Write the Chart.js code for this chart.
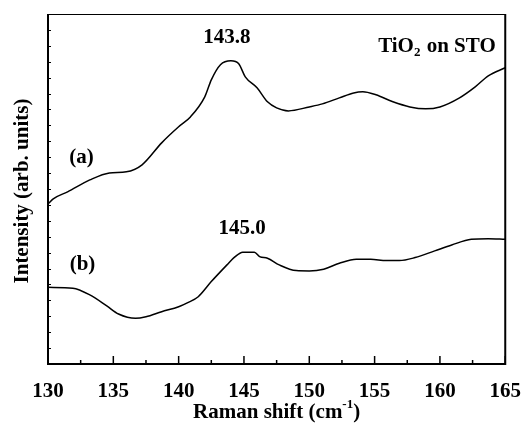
<!DOCTYPE html>
<html>
<head>
<meta charset="utf-8">
<script src="https://cdn.jsdelivr.net/npm/chart.js@4/dist/chart.umd.min.js"></script>
<style>
  html, body { margin: 0; padding: 0; background: #fff; }
  #wrap { width: 528px; height: 423px; position: relative; }
</style>
</head>
<body>
<div id="wrap"><canvas id="chart"></canvas></div>
<script>
// spectrum (a) - Raman shift / intensity
const shiftA = [130, 130.4, 131.5, 133.2, 134.7, 136, 137.2, 138.7, 140, 140.9, 142, 142.5, 143.2, 144, 144.6, 145.1, 146, 146.8, 147.5, 148.4, 150, 151, 152.3, 153.4, 154.1, 155.1, 156.4, 157.7, 158.9, 160, 161.5, 162.7, 163.7, 165]
const intA = [10.06, 10.38, 10.82, 11.57, 12.01, 12.08, 12.52, 13.9, 14.91, 15.53, 16.79, 17.86, 18.81, 19.06, 18.87, 18.05, 17.36, 16.48, 16.1, 15.91, 16.16, 16.35, 16.73, 17.04, 17.11, 16.92, 16.48, 16.16, 16.04, 16.16, 16.73, 17.42, 18.11, 18.62]

// spectrum (b)
const shiftB = [130, 131.9, 133.2, 134.5, 135.4, 136.7, 137.5, 138.7, 140, 140.7, 141.5, 142.5, 143.7, 144.3, 144.9, 145.8, 146.2, 146.8, 147.7, 149, 150, 151.1, 152.3, 153.6, 154.7, 155.9, 156.9, 158.1, 159.6, 160.9, 162.4, 163.7, 165]
const intB = [4.82, 4.76, 4.34, 3.65, 3.14, 2.87, 2.97, 3.29, 3.6, 3.86, 4.23, 5.18, 6.23, 6.73, 7.03, 7.03, 6.75, 6.65, 6.23, 5.87, 5.85, 5.96, 6.33, 6.58, 6.58, 6.5, 6.5, 6.69, 7.11, 7.48, 7.84, 7.88, 7.84]

// text labels placed in data coordinates
const noteText = ['(a)', '(b)', '143.8', '145.0']
const noteX = [132.56, 132.64, 143.7, 144.86]
const noteY = [12.96, 6.23, 20.5, 8.49]

const xMin = 130, xMax = 165
const yMin = 0, yMax = 22

const serif = '"Liberation Serif", "Times New Roman", serif'
const fs = 21

function toPoints(xs, ys) {
  return xs.map((x, i) => ({ x: x, y: ys[i] }))
}

const decor = {
  id: 'decor',
  afterDraw(chart) {
    const ctx = chart.ctx
    const a = chart.chartArea
    const xs = chart.scales.x
    const ys = chart.scales.y
    ctx.save()
    ctx.strokeStyle = '#000'
    ctx.fillStyle = '#000'

    // frame
    ctx.lineWidth = 2
    ctx.beginPath()
    ctx.moveTo(a.left, a.top); ctx.lineTo(a.left, a.bottom); ctx.lineTo(a.right, a.bottom); ctx.lineTo(a.right, a.top)
    ctx.stroke()
    ctx.lineWidth = 1
    ctx.beginPath()
    ctx.moveTo(a.left, a.top + 0.5); ctx.lineTo(a.right, a.top + 0.5)
    ctx.stroke()

    // inward ticks on x
    ctx.lineWidth = 1.5
    xs.ticks.forEach(t => {
      const px = xs.getPixelForValue(t.value)
      const len = t.value % 5 === 0 ? 8 : 4
      ctx.beginPath(); ctx.moveTo(px, a.bottom); ctx.lineTo(px, a.bottom - len); ctx.stroke()
    })
    // small inward ticks on y
    ctx.lineWidth = 1
    ys.ticks.forEach(t => {
      const py = Math.round(ys.getPixelForValue(t.value)) + 0.5
      ctx.beginPath(); ctx.moveTo(a.left, py); ctx.lineTo(a.left + 3, py); ctx.stroke()
    })

    // notes
    ctx.font = 'bold ' + fs + 'px ' + serif
    ctx.textAlign = 'center'
    ctx.textBaseline = 'middle'
    noteText.forEach((s, i) => {
      ctx.fillText(s, xs.getPixelForValue(noteX[i]), ys.getPixelForValue(noteY[i]))
    })

    // TiO2 on STO
    let px = xs.getPixelForValue(155.27)
    const py = ys.getPixelForValue(19.94)
    ctx.textAlign = 'left'
    ctx.fillText('TiO', px, py)
    px += ctx.measureText('TiO').width
    ctx.font = 'bold 13px ' + serif
    ctx.fillText('2', px, py + 6)
    px += ctx.measureText('2').width + 1
    ctx.font = 'bold ' + fs + 'px ' + serif
    ctx.fillText(' on STO', px, py)

    // x title with superscript
    const main = 'Raman shift (cm'
    const sup = '-1'
    const close = ')'
    ctx.font = 'bold ' + fs + 'px ' + serif
    const w1 = ctx.measureText(main).width
    const w3 = ctx.measureText(close).width
    ctx.font = 'bold 13px ' + serif
    const w2 = ctx.measureText(sup).width
    let tx = (a.left + a.right) / 2 - (w1 + w2 + w3) / 2
    const ty = 413
    ctx.font = 'bold ' + fs + 'px ' + serif
    ctx.fillText(main, tx, ty)
    tx += w1
    ctx.font = 'bold 13px ' + serif
    ctx.fillText(sup, tx, ty - 8)
    tx += w2
    ctx.font = 'bold ' + fs + 'px ' + serif
    ctx.fillText(close, tx, ty)

    // y title
    ctx.translate(23, (a.top + a.bottom) / 2 + 2)
    ctx.rotate(-Math.PI / 2)
    ctx.textAlign = 'center'
    ctx.font = 'bold ' + fs + 'px ' + serif
    ctx.fillText('Intensity (arb. units)', 0, 0)
    ctx.restore()
  }
}

new Chart(document.getElementById('chart'), {
  type: 'line',
  data: {
    datasets: [
      { data: toPoints(shiftA, intA), borderColor: '#000', borderWidth: 1.5, pointRadius: 0, cubicInterpolationMode: 'monotone', fill: false },
      { data: toPoints(shiftB, intB), borderColor: '#000', borderWidth: 1.5, pointRadius: 0, cubicInterpolationMode: 'monotone', fill: false }
    ]
  },
  options: {
    responsive: true,
    maintainAspectRatio: false,
    animation: false,
    layout: { padding: { top: 14, right: 16, left: 0, bottom: 0 } },
    plugins: { legend: { display: false }, tooltip: { enabled: false } },
    scales: {
      x: {
        type: 'linear',
        min: xMin,
        max: xMax,
        grid: { display: false },
        border: { display: false },
        ticks: {
          stepSize: 2.5,
          autoSkip: false,
          maxRotation: 0,
          padding: 7,
          color: '#000',
          font: { family: serif, size: fs, weight: 'bold' },
          callback: v => v % 5 === 0 ? String(v) : ''
        },
        afterFit: s => { s.height = 59 }
      },
      y: {
        min: yMin,
        max: yMax,
        grid: { display: false },
        border: { display: false },
        ticks: { stepSize: 1, autoSkip: false, maxTicksLimit: 40, font: { size: 6 }, callback: () => '' },
        afterFit: s => { s.width = 48 }
      }
    }
  },
  plugins: [decor]
})
</script>
</body>
</html>
